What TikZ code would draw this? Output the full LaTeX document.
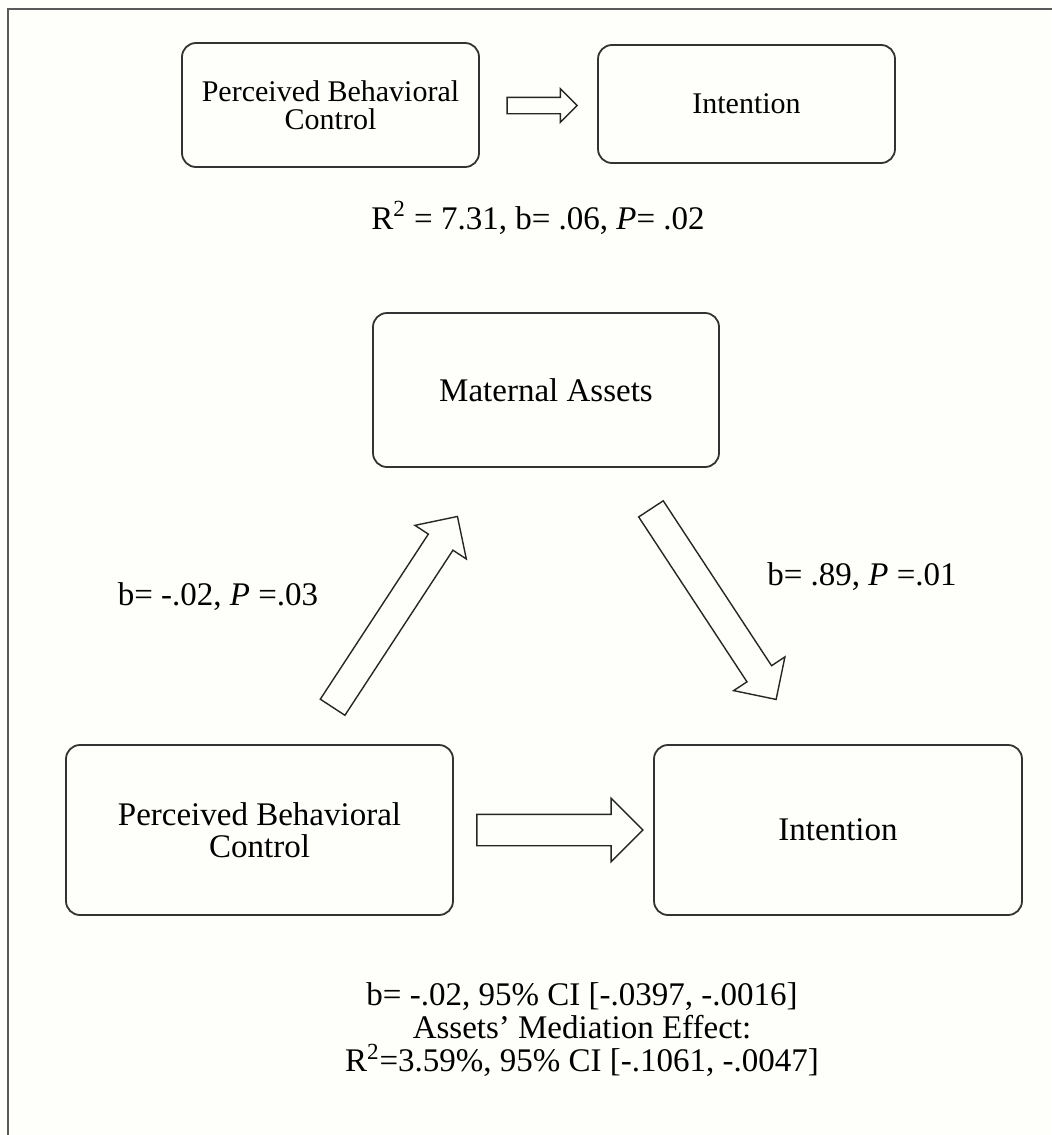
\documentclass[tikz,border=0pt]{standalone}
\usepackage{fontspec}
\setmainfont{Liberation Serif}
\usetikzlibrary{shapes.arrows}
\definecolor{paper}{RGB}{254,254,250}
\definecolor{frame}{RGB}{90,90,90}
\begin{document}
\begin{tikzpicture}[x=0.5pt, y=-0.5pt,
	box/.style = {draw=black!80, line width=0.9pt, rounded corners=7pt, align=center, font=\fontsize{16.5}{16}\selectfont},
	topbox/.style = {box, font=\fontsize{15}{14}\selectfont},
	block/.style = {draw=black!85, line width=0.7pt, single arrow, inner sep=0pt},
	note/.style = {align=center, font=\fontsize{16.5}{16.5}\selectfont}]
		\fill[paper] (0,0) rectangle (1051,1135);
		\useasboundingbox (0,0) rectangle (1051,1135);
		\draw[frame, line width=1.1pt] (8,1140) -- (8,9) -- (1056,9);
		\node[topbox, minimum width=148.5pt, minimum height=62pt] (pbc1) at (330.5,105) {Perceived Behavioral\\Control};
		\node[topbox, minimum width=148.5pt, minimum height=59pt] (int1) at (746.5,104) {Intention};
		\node[block, minimum height=35pt, inner ysep=3.75pt, single arrow head extend=4.25pt] (arr1) at (538,105.5) {};
		\node[note] (fit1) at (538,218) {R\textsuperscript{2} = 7.31, b= .06, \textit{P}= .02};
		\node[box, minimum width=173pt, minimum height=77pt] (ma) at (546,390) {Maternal Assets};
		\node[box, minimum width=193.5pt, minimum height=85pt] (pbc2) at (259.5,830) {Perceived Behavioral\\Control};
		\node[box, minimum width=184pt, minimum height=85pt] (int2) at (838,830) {Intention};
		\node[block, minimum height=114pt, inner ysep=7pt, single arrow head extend=8pt, rotate=56.8] (arr2) at (391,618) {};
		\node[block, minimum height=114pt, inner ysep=7pt, single arrow head extend=8pt, rotate=-56.7] (arr3) at (709.5,598) {};
		\node[block, minimum height=83pt, inner ysep=7.5pt, single arrow head extend=8pt] (arr4) at (552,830) {};
		\node[note] (lab1) at (218,597) {b= -.02, \textit{P} =.03};
		\node[note] (lab2) at (862,577) {b= .89, \textit{P} =.01};
		\node[note] (eff) at (582,1030) {b= -.02, 95\% CI [-.0397, -.0016]\\Assets' Mediation Effect:\\R\textsuperscript{2}=3.59\%, 95\% CI [-.1061, -.0047]};
	\end{tikzpicture}
\end{document}
